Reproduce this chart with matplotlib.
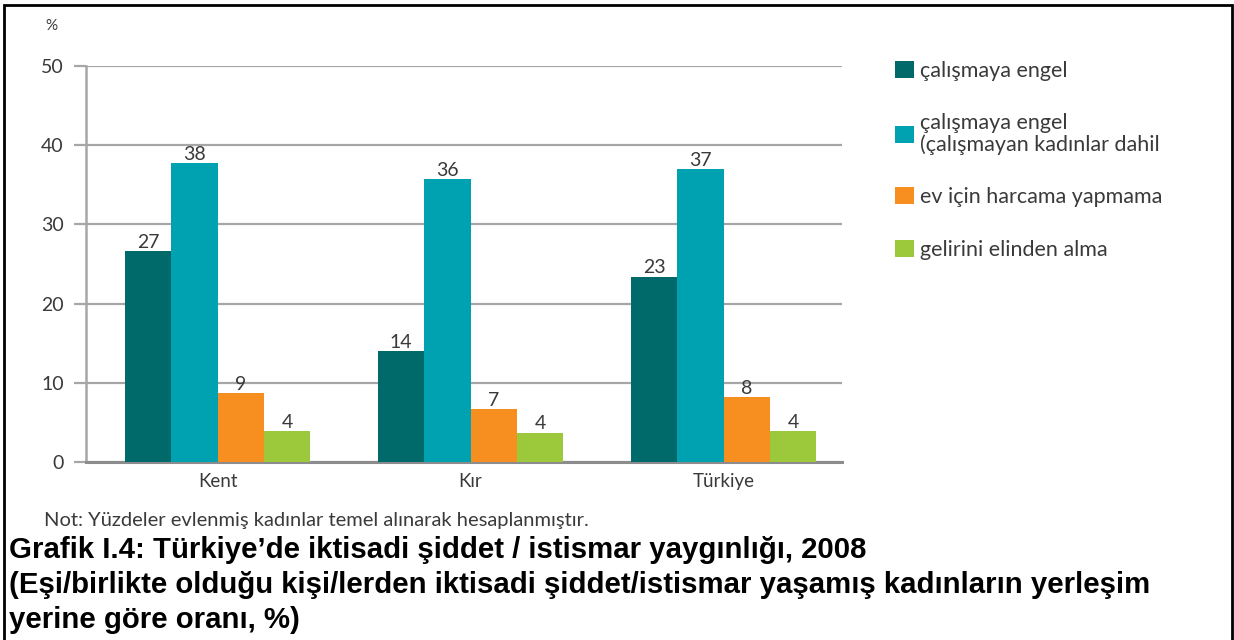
import matplotlib
matplotlib.use("Agg")
import matplotlib.pyplot as plt
from matplotlib.patches import Rectangle
import numpy as np

# data
categories = ["Kent", "Kır", "Türkiye"]
series_names = ["çalışmaya engel",
                "çalışmaya engel\n(çalışmayan kadınlar dahil",
                "ev için harcama yapmama",
                "gelirini elinden alma"]
calismaya_engel = [26.6, 14.0, 23.4]
calismaya_engel_dahil = [37.7, 35.7, 37.0]
harcama_yapmama = [8.7, 6.7, 8.2]
gelir_alma = [3.9, 3.7, 3.9]
labels_shown = [[27, 14, 23], [38, 36, 37], [9, 7, 8], [4, 4, 4]]
yticks = [0, 10, 20, 30, 40, 50]

colors = ["#006a6b", "#00a1b1", "#f68f20", "#9cc93c"]
txt = "#3a3a3a"
grid_c = "#a6a6a8"
font = ["Lato", "DejaVu Sans"]

fig = plt.figure(figsize=(12.34, 6.40), dpi=100)
ax = fig.add_axes([0.0697, 0.278, 0.613, 0.619])

x = np.arange(len(categories))
w = 0.183
series = [calismaya_engel, calismaya_engel_dahil, harcama_yapmama, gelir_alma]
for i, vals in enumerate(series):
    pos = x + (i - 1.5) * w
    bars = ax.bar(pos, vals, w, color=colors[i], label=series_names[i],
                  zorder=3)
    for b, lab in zip(bars, labels_shown[i]):
        ax.text(b.get_x() + b.get_width() / 2, b.get_height() + 0.05,
                str(lab), ha="center", va="bottom", fontsize=14,
                color=txt, family=font)

ax.set_xlim(-0.52, 2.47)
ax.set_ylim(0, 50)
ax.set_yticks(yticks)
ax.set_yticklabels([str(v) for v in yticks], family=font, fontsize=14,
                   color=txt)
ax.set_xticks(x)
ax.set_xticklabels(categories, family=font, fontsize=13.5, color=txt)
ax.yaxis.grid(True, color=grid_c, linewidth=1.6, zorder=0)
ax.tick_params(axis="y", length=9, width=1.6, color=grid_c, pad=7)
ax.tick_params(axis="x", length=0, pad=8)
for s in ["top", "right"]:
    ax.spines[s].set_visible(False)
ax.spines["left"].set_color(grid_c)
ax.spines["left"].set_linewidth(1.8)
ax.spines["bottom"].set_color("#8c8c8e")
ax.spines["bottom"].set_linewidth(2.2)

ax.text(-0.054, 1.1, "%", transform=ax.transAxes, fontsize=11,
        color=txt, family=font, va="center")

leg = ax.legend(loc="upper left", bbox_to_anchor=(1.070, 1.012), frameon=False,
                prop={"family": font, "size": 15.5}, labelcolor=txt,
                borderpad=0, borderaxespad=0,
                handlelength=0.85, handleheight=0.85, handletextpad=0.3,
                labelspacing=1.5)
leg.get_texts()[1].set_linespacing(1.05)

fig.text(0.036, 0.186, "Not: Yüzdeler evlenmiş kadınlar temel alınarak hesaplanmıştır.",
         fontsize=14.5, color=txt, family=font, va="center")
caption = ["Grafik I.4: Türkiye’de iktisadi şiddet / istismar yaygınlığı, 2008",
           "(Eşi/birlikte olduğu kişi/lerden iktisadi şiddet/istismar yaşamış kadınların yerleşim",
           "yerine göre oranı, %)"]
for k, line in enumerate(caption):
    fig.text(0.0075, 0.141 - k * 0.0545, line, fontsize=21.2, fontweight="bold",
             family=["Liberation Sans", "DejaVu Sans"], color="black",
             va="center")

fig.patches.append(Rectangle((4 / 1234, -0.05), 1228 / 1234, 1.05 - 5 / 640,
                             transform=fig.transFigure, fill=False,
                             edgecolor="black", linewidth=2, clip_on=False))

fig.savefig("out.png", dpi=100)
